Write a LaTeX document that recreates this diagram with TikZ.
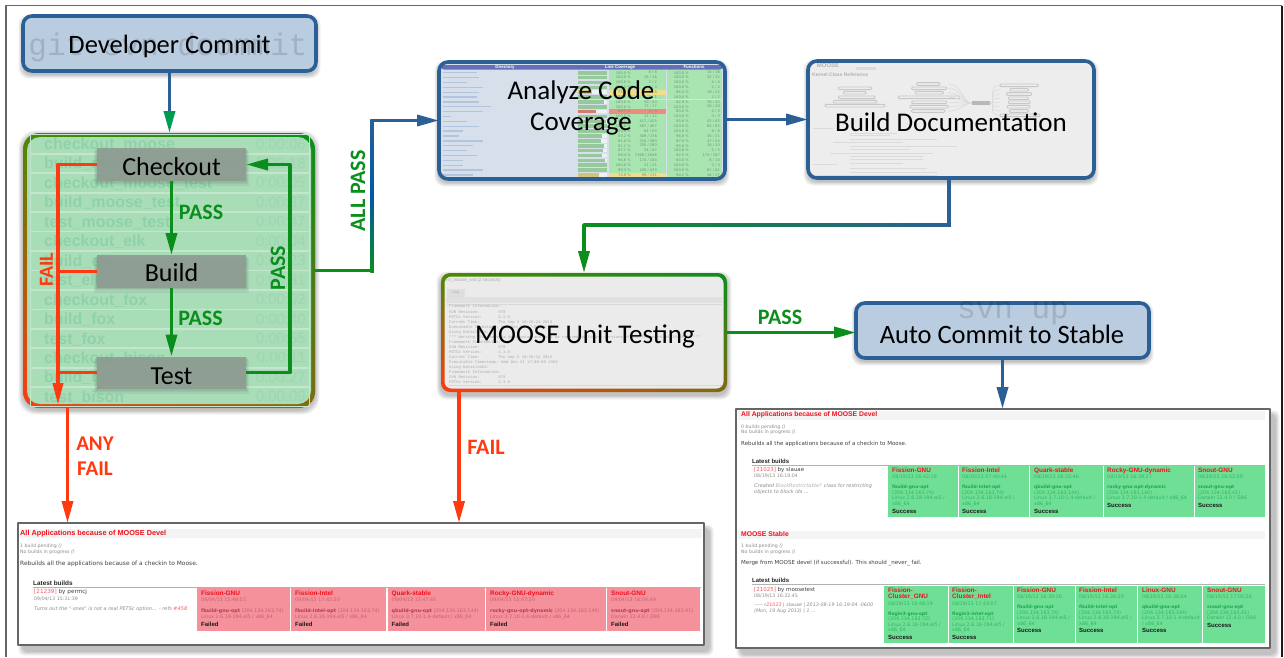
\documentclass[tikz,border=0pt]{standalone}
\usepackage{fontspec}
\setmainfont{Carlito}
\newfontfamily\uisans{DejaVu Sans}
\newfontfamily\uihead{Liberation Sans}
\newfontfamily\uimono{Liberation Mono}
\usetikzlibrary{arrows.meta,shadings,calc}
\definecolor{flowblue}{HTML}{2A6096}
\definecolor{flowgreen}{HTML}{0A8F1C}
\definecolor{flowred}{HTML}{FF3A10}
\definecolor{boxfill}{HTML}{B9CCE0}
\definecolor{rowfill}{HTML}{A9DDB8}
\definecolor{rowline}{HTML}{C4E6CE}
\definecolor{rowtext}{HTML}{8FD2A9}
\definecolor{rowtime}{HTML}{9DD6B1}
\definecolor{stepfill}{HTML}{8E9C93}
\definecolor{failcell}{HTML}{F4919A}
\definecolor{okcell}{HTML}{6FDF96}
\definecolor{titlered}{HTML}{F0101E}
\definecolor{band}{HTML}{F4F4F4}
\newcommand{\fsz}[1]{\fontsize{#1}{#1}\selectfont}
\newcounter{tn}
\newcommand{\ptxt}[4][]{\stepcounter{tn}\node[ptext,#1] (t\arabic{tn}) at (#2,{#3+1.7}) {#4};}
\newcommand{\softshadow}[7][6pt]{\foreach \s in {1,2,3,4,5}{\fill[black,opacity=.05,rounded corners=#1]
  ({#2+#6-\s*.9},{#3+#7-\s*.9}) rectangle ({#4+#6+\s*.9},{#5+#7+\s*.9});}}
\newcommand{\failcelln}[7]{\stepcounter{tn}\node[cellbox,fill=failcell,minimum width={#2-#1},minimum height=43pt] (c\arabic{tn}) at ({(#1+#2)/2},609.5) {};
  \ptxt[cname]{#1+4}{594}{#3}\ptxt[ctime,text=failtext]{#1+4}{600}{#4}
  \ptxt[ctime,text=failtext]{#1+4}{611}{\textbf{\textcolor{failhost}{#5}} #6}\ptxt[ctime,text=failtext]{#1+4}{617}{#7}
  \ptxt[cres]{#1+4}{625}{Failed}}
\definecolor{failtext}{HTML}{CB5F70}
\definecolor{failhost}{HTML}{B63C50}
\definecolor{oktext}{HTML}{32B565}
\definecolor{okhost}{HTML}{1CA84E}
% x1 x2 ytop ybot
\newcommand{\okcelln}[4]{\stepcounter{tn}\node[cellbox,fill=okcell,minimum width={#2-#1},minimum height={#4-#3}] (c\arabic{tn}) at ({(#1+#2)/2},{(#3+#4)/2}) {};}
% x y time host ip os1 os2 yresult
\newcommand{\oklines}[8]{\ptxt[ctime,text=oktext]{#1}{#2}{#3}\ptxt[ctime,text=okhost,font=\uisans\fsz{4.5}\bfseries]{#1}{#2+10}{#4}
  \ptxt[ctime,text=oktext]{#1}{#2+15.5}{#5}\ptxt[ctime,text=oktext]{#1}{#2+21}{#6}\ptxt[ctime,text=oktext]{#1}{#2+26.5}{#7}
  \ptxt[cres]{#1}{#8}{Success}}
% i linkwidth barwidth pct lines fpct funcs cellcolour
\newcommand{\covrow}[8]{\pgfmathsetmacro{\ry}{72.7+4.87*(#1-1)}
  \fill[covcell,#8] (609,{\ry-2.4}) rectangle (666,{\ry+2.4});
  \fill[covcell] (666.5,{\ry-2.4}) rectangle (722,{\ry+2.4});
  \fill[white!75!boxfill] (578,{\ry-1.8}) rectangle (607,{\ry+1.8});
  \fill[#8!88!black] (578,{\ry-1.8}) rectangle ({578+#3},{\ry+1.8});
  \draw[covlink] (443,\ry) -- ({443+#2},\ry);
  \stepcounter{tn}\node[covt,anchor=east] (t\arabic{tn}) at (631,\ry) {#4};
  \stepcounter{tn}\node[covt,anchor=east] (t\arabic{tn}) at (657,\ry) {#5};
  \stepcounter{tn}\node[covt,anchor=east] (t\arabic{tn}) at (689,\ry) {#6};
  \stepcounter{tn}\node[covt,anchor=east] (t\arabic{tn}) at (720,\ry) {#7};}
\definecolor{cg}{HTML}{A9E5B1}
\definecolor{cy}{HTML}{F0DF8A}
\definecolor{cr}{HTML}{EE8C80}
\tikzset{
 ptext/.style={anchor=base west,inner sep=0pt,font=\uisans\fsz{5.9},text=black!75},
 pmeta/.style={font=\uisans\fsz{4.7},text=black!45},
 phead/.style={font=\uihead\fsz{7.3}\bfseries,text=titlered},
 plat/.style={font=\uihead\fsz{6.4}\bfseries,text=black!85},
 cname/.style={font=\uihead\fsz{6.4}\bfseries,text=titlered},
 ctime/.style={font=\uisans\fsz{4.8}},
 cres/.style={font=\uihead\fsz{6}\bfseries,text=black!90},
 cellbox/.style={rectangle,inner sep=0pt,outer sep=0pt},
 shotpanel/.style={rectangle,draw=black!60,line width=1.2pt,fill=white,inner sep=0pt,outer sep=0pt},
 round/.style={rectangle,rounded corners=9pt,inner sep=0pt,outer sep=0pt},
 bluebox/.style={round,draw=flowblue,line width=3.6pt,fill=boxfill,font=\fsz{26.5}},
 covbox/.style={round,draw=flowblue,line width=3.6pt,fill=none},
 gradbox/.style={round,lower left=flowred,upper right=flowgreen,upper left=gradTL,lower right=gradBR},
 stepbox/.style={rectangle,inner sep=0pt,outer sep=0pt,fill=stepfill,font=\fsz{26},minimum width=149pt,minimum height=33pt},
 conn/.style={line width=3.5pt,-{Triangle[length=22pt,width=11pt]}},
 connb/.style={conn,color=flowblue},
 conng/.style={conn,color=flowgreen},
 connr/.style={conn,color=flowred},
 plainr/.style={line width=3.5pt,color=flowred},
 lbg/.style={inner sep=0pt,font=\fsz{22}\bfseries,text=flowgreen},
 lbr/.style={inner sep=0pt,font=\fsz{22}\bfseries,text=flowred},
 rowname/.style={anchor=base west,inner sep=0pt,font=\uihead\fsz{16}\bfseries,text=rowtext},
 rowt/.style={anchor=base east,inner sep=0pt,font=\uihead\fsz{15},text=rowtime},
 ghosttxt/.style={inner sep=0pt,text=black,text opacity=.13,font=\uimono\fsz{31}},
 covt/.style={inner sep=0pt,font=\uisans\fsz{3.6},text=black!35!cg},
 covcell/.style={fill=cg},
 covlink/.style={line width=1.3pt,color=covl},
 docbox/.style={draw=black!22,line width=.9pt,rounded corners=1pt},
 docline/.style={line width=1pt,color=black!14},
 logt/.style={anchor=base west,inner sep=0pt,font=\uimono\fsz{3.9},text=black!33},
}
\definecolor{covl}{HTML}{B2C4DE}
\definecolor{covbg}{HTML}{D6DFEA}
\definecolor{gradTL}{HTML}{4A8A00}
\definecolor{gradBR}{HTML}{7F6A10}
\begin{document}
\begin{tikzpicture}[x=1pt,y=-1pt,line join=round]
\useasboundingbox (0,0) rectangle (1284,657);
\fill[white] (0,0) rectangle (1284,657);
% page frame
\draw[black!60,line width=1.8pt] (6,657) -- (6,5.5) -- (1282,5.5);
\draw[black!90,line width=1.4pt] (1282,5.5) -- (1282,657);

% ---- Developer Commit
\softshadow[10pt]{23}{16}{316}{71}{0}{3}
\node[bluebox,minimum width=293pt,minimum height=55pt] (dev) at (169.5,43.5) {};
\stepcounter{tn}\node[ghosttxt] (t\arabic{tn}) at (168,47) {git svn dcommit};
\node[inner sep=0pt,font=\fsz{26.5}] (devt) at (169.5,46) {Developer Commit};

% ---- CI column
\softshadow[17pt]{23}{133}{315}{408}{0}{2}
\node[gradbox,rounded corners=16pt,minimum width=292pt,minimum height=275pt] (ci) at (169,270.5) {};
\fill[rowfill,rounded corners=13pt] (27,137) rectangle (311,404);
\foreach \i/\nm/\tm in {0/checkout\_moose/0:00:06,1/build\_moose/0:02:18,2/checkout\_moose\_test/0:00:05,3/build\_moose\_test/0:00:37,4/test\_moose\_test/0:00:47,5/checkout\_elk/0:00:04,6/build\_elk/0:00:23,7/test\_elk/0:00:31,8/checkout\_fox/0:00:02,9/build\_fox/0:00:40,10/test\_fox/0:00:55,11/checkout\_bison/0:00:11,12/build\_bison/0:00:27,13/test\_bison/0:00:09}{
  \pgfmathsetmacro{\yy}{144+19.45*\i}
  \draw[rowline,line width=.9pt] (30,{\yy-9.4}) rectangle (309,{\yy+9.4});
  \node[rowname] (rn\i) at (44,{\yy+5.5}) {\nm};
  \node[rowt] (rt\i) at (306,{\yy+5}) {\tm};
}
\foreach \yc in {164.5,271.5,372.5}{
 \foreach \s in {1,2,3}{\fill[black,opacity=.05] ({97-\s},{\yc-16.5+\s}) rectangle ({246+\s},{\yc+16.5+\s*1.6});}}
\node[stepbox,opacity=.92,text opacity=1,text=black] (checkout) at (171.5,164.5) {\raisebox{-2.5pt}[\height][\depth]{Checkout}};
\node[stepbox,opacity=.92,text opacity=1,text=black] (build) at (171.5,271.5) {\raisebox{-1.5pt}[\height][\depth]{Build}};
\node[stepbox,opacity=.92,text opacity=1,text=black,minimum height=32pt] (test) at (171.5,372.5) {\raisebox{-3.5pt}[\height][\depth]{Test}};

% connectors in the CI column
\coordinate (failx) at (58,405);
\coordinate (loopx) at (290,270);
\draw[plainr,-{Triangle[length=22pt,width=10pt]}] (checkout.west) -- (checkout.west -| failx) -- (failx);
\draw[plainr] (build.west) -- (build.west -| failx);
\draw[plainr] (test.west) -- (test.west -| failx);
\draw[conng] (checkout.south) -- (build.north);
\draw[conng] (build.south) -- (test.north);
\draw[conng] (test.east) -- (test.east -| loopx) -- (checkout.east -| loopx) -- (checkout.east);
\node[lbg] (pass1) at (201,212) {PASS};
\node[lbg] (pass2) at (200.5,318) {PASS};
\node[lbg,rotate=90] (pass3) at (278,268) {PASS};
\node[lbr,font=\fsz{20}\bfseries,rotate=90] (fail1) at (46.5,270) {FAIL};
\draw[conn,color=flowblue,-{Triangle[length=22pt,width=11pt,color=black!10!teal!70!green]}] (dev.south) -- (dev.south |- ci.north);

% ---- Coverage panel
\softshadow[10pt]{439}{62}{725}{179}{0}{3}
\fill[rounded corners=9pt,fill=covbg] (439,62) rectangle (725,179);
\fill[rounded corners=3pt,fill=covl!70!blue!80!black] (441,65) rectangle (723,69.5);
\stepcounter{tn}\node[inner sep=0pt,font=\uihead\fsz{4.4}\bfseries,text=white] (t\arabic{tn}) at (505,67.2) {Directory};
\stepcounter{tn}\node[inner sep=0pt,font=\uihead\fsz{4.4}\bfseries,text=white] (t\arabic{tn}) at (620,67.2) {Line Coverage};
\stepcounter{tn}\node[inner sep=0pt,font=\uihead\fsz{4.4}\bfseries,text=white] (t\arabic{tn}) at (694,67.2) {Functions};
\covrow{1}{34}{29}{100.0 \%}{8 / 8}{100.0 \%}{18 / 18}{cg}
\covrow{2}{36}{29}{100.0 \%}{16 / 16}{100.0 \%}{32 / 32}{cg}
\covrow{3}{24}{29}{100.0 \%}{2 / 2}{100.0 \%}{4 / 4}{cg}
\covrow{4}{40}{29}{100.0 \%}{3 / 3}{100.0 \%}{2 / 2}{cg}
\covrow{5}{36}{14}{75.0 \%}{6 / 8}{86.4 \%}{19 / 22}{cy}
\covrow{6}{34}{29}{100.0 \%}{1 / 1}{100.0 \%}{2 / 2}{cg}
\covrow{7}{36}{26}{100.0 \%}{50 / 50}{92.9 \%}{39 / 42}{cg}
\covrow{8}{48}{29}{100.0 \%}{17 / 17}{100.0 \%}{28 / 28}{cg}
\covrow{9}{40}{18}{60.7 \%}{3 / 5}{80.0 \%}{4 / 5}{cr}
\covrow{10}{8}{29}{100.0 \%}{12 / 12}{100.0 \%}{3 / 3}{cg}
\covrow{11}{24}{28}{98.1 \%}{417 / 425}{95.6 \%}{43 / 45}{cg}
\covrow{12}{36}{29}{100.0 \%}{467 / 467}{100.0 \%}{65 / 65}{cg}
\covrow{13}{20}{29}{100.0 \%}{64 / 64}{100.0 \%}{8 / 8}{cg}
\covrow{14}{16}{24}{83.2 \%}{309 / 378}{96.8 \%}{30 / 31}{cg}
\covrow{15}{40}{23}{81.0 \%}{316 / 390}{87.0 \%}{47 / 54}{cg}
\covrow{16}{30}{26}{91.1 \%}{255 / 280}{95.0 \%}{19 / 20}{cg}
\covrow{17}{24}{25}{87.1 \%}{54 / 62}{100.0 \%}{5 / 5}{cg}
\covrow{18}{34}{24}{88.4 \%}{2368 / 2648}{92.5 \%}{173 / 187}{cg}
\covrow{19}{20}{27}{94.6 \%}{174 / 184}{80.0 \%}{8 / 10}{cg}
\covrow{20}{20}{29}{100.0 \%}{21 / 21}{100.0 \%}{3 / 3}{cg}
\covrow{21}{40}{29}{99.3 \%}{430 / 433}{100.0 \%}{81 / 81}{cg}
\covrow{22}{30}{21}{74.8 \%}{99 / 131}{94.1 \%}{16 / 17}{cy}
\node[covbox,minimum width=286pt,minimum height=117pt] (cov) at (582,120.5) {};
\node[inner sep=0pt,font=\fsz{27},align=center] (covt) at (581,108) {Analyze Code\\[4pt]Coverage};

% ---- Documentation panel
\softshadow[10pt]{808}{61}{1094}{178}{0}{3}
\fill[rounded corners=9pt,fill=black!7] (808,61) rectangle (1094,178);
\begin{scope}[shift={(770,50)},x=.3333pt,y=-.3333pt]
 \fill[covl!45!black!12] (125,52) rectangle (965,60);
 \fill[covl!70!black!30] (258,52) rectangle (318,60);
 \foreach \a/\b/\c in {205/305/115,220/288/128,205/315/142,190/320/155,165/345/167,440/510/102,425/530/115,435/520/128,385/570/142,425/530/157,420/535/170,425/525/183,690/805/106,720/775/119,710/785/132,715/775/145,715/780/157,712/780/170,718/775/183,690/810/196}{
   \draw[docbox] (\a,{\c-4}) rectangle (\b,{\c+4});}
 \fill[black!28] (605,154) rectangle (660,166);
 \foreach \c in {102,115,128,142,157,170,183}{\draw[black!14,line width=.6pt] (535,\c) .. controls (575,\c) and (580,160) .. (605,160);}
 \foreach \c in {106,119,132,145,157,170,183,196}{\draw[black!14,line width=.6pt] (690,\c) .. controls (650,\c) and (680,160) .. (660,160);}
 \foreach \a/\b/\c in {130/190/235,240/380/250,240/360/258,240/500/268,190/400/278,240/560/290,240/420/300,180/490/310,240/460/320,240/460/330,240/400/342,130/200/345,240/470/355,240/500/368,140/500/378}{
   \draw[docline] (\a,\c) -- (\b,\c);}
\end{scope}
\stepcounter{tn}\node[inner sep=0pt,font=\uihead\fsz{6}\bfseries,text=black!30] (t\arabic{tn}) at (828,65) {MOOSE};
\stepcounter{tn}\node[anchor=west,inner sep=0pt,font=\uihead\fsz{5}\bfseries,text=black!30] (t\arabic{tn}) at (812,75) {Kernel Class Reference};
\node[covbox,minimum width=286pt,minimum height=117pt] (doc) at (951,119.5) {};
\node[inner sep=0pt,font=\fsz{27}] (doct) at (951,122) {Build Documentation};

% ---- Unit test panel
\softshadow[10pt]{441}{273}{727}{392}{0}{3}
\node[gradbox,minimum width=286pt,minimum height=119pt] (unit) at (584,332.5) {};
\fill[black!8,rounded corners=7pt] (444.5,276.5) rectangle (723.5,388.5);
\fill[black!12] (446,297) rectangle (722,303);
\fill[black!13] (447,289) rectangle (465,297);
\draw[black!15,line width=.6pt] (447,304) -- (722,304) (447,385) -- (722,385);
\ptxt[logt,font=\uihead\fsz{4.4}]{445}{279.5}{est\_moose\_unit (2 seconds)}
\ptxt[logt,font=\uihead\fsz{4}]{452}{291.5}{Log}
\foreach \y/\txt in {306/Framework Information:,312/SVN Revision:\ \ \ \ \ \ \ \ 970,317/PETSc Version:\ \ \ \ \ \ \ 3.3.0,322/Current Time:\ \ \ \ \ \ \ \ Thu Sep  5 10:29:23 2013,327/Executable Timestamp: Wed Dec 31 17:00:00 1969,332/Using DetailedXX:,337/*** Warning\, This code is deprecated and will be removed in future versions of the framework at 10:29:23 ***,342/Framework Information:,347/SVN Revision:\ \ \ \ \ \ \ \ 970,352/PETSc Version:\ \ \ \ \ \ \ 3.3.0,357/Current Time:\ \ \ \ \ \ \ \ Thu Sep  5 10:29:24 2013,362/Executable Timestamp: Wed Dec 31 17:00:00 1969,367/Using DetailedXX:,372/Framework Information:,377/SVN Revision:\ \ \ \ \ \ \ \ 970,382/PETSc Version:\ \ \ \ \ \ \ 3.3.0}{
 \ptxt[logt]{449}{\y}{\txt}}
\node[inner sep=0pt,font=\fsz{27}] (unitt) at (585,336) {MOOSE Unit Testing};

% ---- Auto commit
\softshadow[10pt]{856}{303}{1149}{358}{0}{3}
\node[bluebox,minimum width=293pt,minimum height=55pt] (auto) at (1002.5,330.5) {};
\stepcounter{tn}\node[ghosttxt] (t\arabic{tn}) at (1013,313) {svn up};
\node[inner sep=0pt,font=\fsz{26.5}] (autot) at (1002,334) {Auto Commit to Stable};

% ---- Fail panel
\softshadow{18}{523}{704}{645}{5}{6}
\node[shotpanel,minimum width=686pt,minimum height=122pt] (fp) at (361,584) {};
\fill[band] (20,529) rectangle (702,538);
\ptxt[phead]{20}{533.5}{All Applications because of MOOSE Devel}
\ptxt[pmeta]{20}{546}{1 build pending \textit{()}}
\ptxt[pmeta]{20}{552}{No builds in progress \textit{()}}
\ptxt{20}{564}{Rebuilds all the applications because of a checkin to Moose.}
\ptxt[plat]{33}{583.5}{Latest builds}
\draw[black!30,line width=.7pt] (33,587.3) -- (701,587.3);
\ptxt[font=\uisans\fsz{5.7}]{34}{592}{\textcolor{titlered!70!white}{[21239]} by permcj}
\ptxt[pmeta]{34}{598.5}{09/04/13 15:31:39}
\ptxt[pmeta,font=\uisans\itshape\fsz{5}]{34}{609}{Turns out the "-snes" is not a real PETSc option... - refs \textcolor{titlered!70!white}{\#458}}
\failcelln{197}{290}{Fission-GNU}{09/04/13 15:49:53}{fbuild-gnu-opt}{(204.134.163.74)}{Linux 2.6.18-194.el5 / x86\_64}
\failcelln{291}{386}{Fission-Intel}{09/04/13 17:42:20}{fbuild-intel-opt}{(204.134.163.74)}{Linux 2.6.18-194.el5 / x86\_64}
\failcelln{387.5}{485}{Quark-stable}{09/04/13 15:47:45}{qbuild-gnu-opt}{(204.134.163.144)}{Linux 3.7.10-1.4-default / x86\_64}
\failcelln{486}{606}{Rocky-GNU-dynamic}{09/04/13 15:47:20}{rocky-gnu-opt-dynamic}{(204.134.163.140)}{Linux 3.7.10-1.4-default / x86\_64}
\failcelln{607}{700}{Snout-GNU}{09/04/13 16:04:49}{snout-gnu-opt}{(204.134.163.41)}{Darwin 12.4.0 / i386}

% ---- Success panel
\softshadow{736}{409}{1270}{648}{5}{6}
\node[shotpanel,minimum width=534pt,minimum height=239pt] (sp) at (1003,528.5) {};
\fill[band] (738,411) rectangle (1265,420);
\ptxt[phead,font=\uihead\fsz{6.8}\bfseries]{741}{414.5}{All Applications because of MOOSE Devel}
\ptxt[pmeta]{741}{426.5}{0 builds pending \textit{()}}
\ptxt[pmeta]{741}{432}{No builds in progress \textit{()}}
\ptxt[font=\uisans\fsz{5.5}]{741}{443.5}{Rebuilds all the applications because of a checkin to Moose.}
\ptxt[plat,font=\uihead\fsz{6}\bfseries]{752}{461.5}{Latest builds}
\draw[black!30,line width=.7pt] (752,465.2) -- (1265,465.2);
\ptxt[font=\uisans\fsz{5.5}]{754}{470}{\textcolor{titlered!70!white}{[21023]} by slauae}
\ptxt[pmeta]{754}{476}{08/19/13 16:19:04}
\ptxt[pmeta,font=\uisans\itshape\fsz{5}]{754}{486}{Created \textcolor{black!30}{BlockRestrictable?} class for restricting}
\ptxt[pmeta,font=\uisans\itshape\fsz{5}]{754}{491.5}{objects to block ids ...}
\okcelln{888}{958}{466}{517}
\ptxt[cname]{892}{471}{Fission-GNU}
\oklines{892}{477}{08/19/13 16:42:16}{fbuild-gnu-opt}{(204.134.163.74)}{Linux 2.6.18-194.el5 /}{x86\_64}{511.5}
\okcelln{959}{1029}{466}{517}
\ptxt[cname]{962}{471}{Fission-Intel}
\oklines{962}{477}{08/20/13 07:40:44}{fbuild-intel-opt}{(204.134.163.74)}{Linux 2.6.18-194.el5 /}{x86\_64}{511.5}
\okcelln{1030}{1103}{466}{517}
\ptxt[cname]{1034}{471}{Quark-stable}
\oklines{1034}{477}{08/19/13 16:32:46}{qbuild-gnu-opt}{(204.134.163.144)}{Linux 3.7.10-1.4-default /}{x86\_64}{511.5}
\okcelln{1104}{1194}{466}{517}
\ptxt[cname]{1107}{471}{Rocky-GNU-dynamic}
\oklines{1107}{477}{08/19/13 16:39:27}{rocky-gnu-opt-dynamic}{(204.134.163.140)}{Linux 3.7.10-1.4-default / x86\_64}{}{506}
\okcelln{1195}{1265}{466}{517}
\ptxt[cname]{1198}{471}{Snout-GNU}
\oklines{1198}{477}{08/19/13 16:52:09}{snout-gnu-opt}{(204.134.163.41)}{Darwin 12.4.0 / i386}{}{506}

\fill[band] (738,531) rectangle (1265,539);
\ptxt[phead,font=\uihead\fsz{6.8}\bfseries]{741}{534.5}{MOOSE Stable}
\ptxt[pmeta]{741}{546}{1 build pending \textit{()}}
\ptxt[pmeta]{741}{552}{No builds in progress \textit{()}}
\ptxt[font=\uisans\fsz{5.5}]{741}{563}{Merge from MOOSE devel (if successful). This should \_never\_ fail.}
\ptxt[plat,font=\uihead\fsz{6}\bfseries]{752}{581}{Latest builds}
\draw[black!30,line width=.7pt] (752,584.7) -- (1265,584.7);
\ptxt[font=\uisans\fsz{5.5}]{754}{589.5}{\textcolor{titlered!70!white}{[21025]} by moosetest}
\ptxt[pmeta]{754}{595.5}{08/19/13 16:32:45}
\ptxt[pmeta,font=\uisans\itshape\fsz{4.8}]{754}{605}{----- \textcolor{titlered!70!white}{r21023} | slauae | 2013-08-19 16:19:04 -0600}
\ptxt[pmeta,font=\uisans\itshape\fsz{4.8}]{754}{610.5}{(Mon, 19 Aug 2013) | 1 ...}
\okcelln{884}{948}{586}{643}
\ptxt[cname]{888}{591}{Fission-}\ptxt[cname]{888}{597}{Cluster\_GNU}
\oklines{888}{603.5}{08/19/13 16:48:19}{flogin3-gnu-opt}{(204.134.163.72)}{Linux 2.6.18-194.el5 /}{x86\_64}{638}
\okcelln{949}{1013}{586}{643}
\ptxt[cname]{952}{591}{Fission-}\ptxt[cname]{952}{597}{Cluster\_Intel}
\oklines{952}{603.5}{08/19/13 17:43:07}{flogin1-intel-opt}{(204.134.163.71)}{Linux 2.6.18-194.el5 /}{x86\_64}{638}
\okcelln{1014}{1075}{586}{643}
\ptxt[cname]{1017}{591}{Fission-GNU}
\oklines{1017}{597}{08/19/13 16:39:26}{fbuild-gnu-opt}{(204.134.163.74)}{Linux 2.6.18-194.el5 /}{x86\_64}{631}
\okcelln{1076}{1137}{586}{643}
\ptxt[cname]{1079}{591}{Fission-Intel}
\oklines{1079}{597}{08/19/13 16:26:29}{fbuild-intel-opt}{(204.134.163.74)}{Linux 2.6.18-194.el5 /}{x86\_64}{631}
\okcelln{1138}{1202}{586}{643}
\ptxt[cname]{1142}{591}{Linux-GNU}
\oklines{1142}{597}{08/19/13 16:36:04}{qbuild-gnu-opt}{(204.134.163.144)}{Linux 3.7.10-1.4-default}{/ x86\_64}{631}
\okcelln{1203}{1265}{586}{643}
\ptxt[cname]{1207}{591}{Snout-GNU}
\oklines{1207}{597}{08/19/13 17:05:26}{snout-gnu-opt}{(204.134.163.41)}{Darwin 12.4.0 / i386}{}{625.5}

% ---- Main connectors
\coordinate (apx) at (372,200);
\draw[connb] (ci.east) -- (ci.east -| apx) -- (cov.west -| apx) -- (cov.west);
\draw[flowgreen,line width=3.5pt] (ci.east) -- (ci.east -| apx);
\shade[bottom color=flowgreen,top color=flowblue,middle color=teal!70!blue] (370.25,272.75) rectangle (373.75,119);
\node[lbg,rotate=90] (allpass) at (358,191) {ALL PASS};
\draw[connb] (cov.east |- doc.west) -- (doc.west);
\coordinate (dux) at (949,225);
\draw[conn,color=flowgreen] (dux |- doc.south) -- (dux) -- (dux -| unit.north) -- (unit.north);
\draw[flowblue,line width=3.5pt] (dux |- doc.south) -- (dux);
\shade[left color=flowgreen,right color=flowblue] (584,223.25) rectangle (950.75,226.75);
\draw[conng] (unit.east) -- (unit.east -| auto.west);
\node[lbg] (pass4) at (780,317) {PASS};
\draw[connb] (auto.south) -- (auto.south |- sp.north);
\coordinate (anyx) at (67.5,450);
\draw[connr] (anyx |- ci.south) -- (anyx |- fp.north);
\node[lbr,align=center,font=\fsz{21}\bfseries] (anyf) at (95,456.5) {ANY\\[4pt]FAIL};
\coordinate (ux) at (459,450);
\draw[connr] (ux |- unit.south) -- (ux |- fp.north);
\node[lbr] (failu) at (486,447) {FAIL};
\end{tikzpicture}
\end{document}
